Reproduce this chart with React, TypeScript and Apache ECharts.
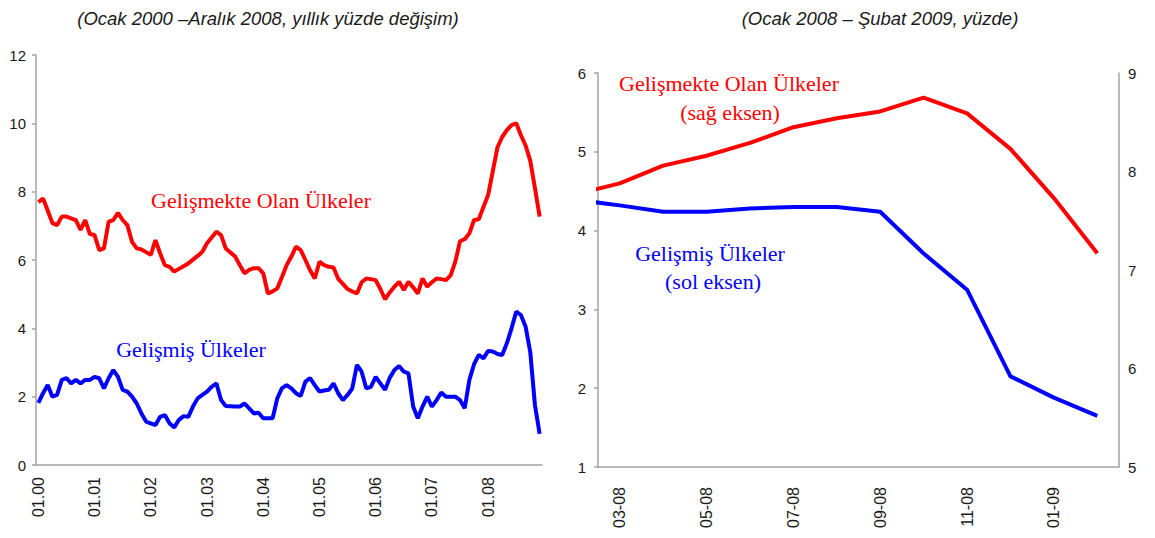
import React, { useEffect, useRef } from "react";
import * as echarts from "echarts";

// ---------- DATA ----------
const leftYears = ["00", "01", "02", "03", "04", "05", "06", "07", "08"];
const monthNumbers = ["01", "02", "03", "04", "05", "06", "07", "08", "09", "10", "11", "12"];
const leftCategories = leftYears.flatMap((y) => monthNumbers.map((m) => `${m}.${y}`));

// Gelişmekte Olan Ülkeler, Ocak 2000 – Aralık 2008 (yıllık % değişim)
const leftDeveloping = [
  7.69, 7.80, 7.45, 7.08, 7.02, 7.27, 7.27, 7.22, 7.17, 6.88, 7.17, 6.76,
  6.73, 6.29, 6.34, 7.12, 7.17, 7.38, 7.17, 7.02, 6.53, 6.34, 6.31, 6.23,
  6.15, 6.58, 6.19, 5.85, 5.80, 5.66, 5.74, 5.82, 5.90, 6.01, 6.12, 6.24,
  6.49, 6.66, 6.83, 6.73, 6.34, 6.22, 6.10, 5.85, 5.61, 5.71, 5.76, 5.76,
  5.61, 5.02, 5.08, 5.17, 5.50, 5.85, 6.10, 6.39, 6.29, 6.00, 5.70, 5.46,
  5.95, 5.85, 5.80, 5.78, 5.45, 5.30, 5.15, 5.08, 5.02, 5.35, 5.46, 5.44,
  5.41, 5.15, 4.85, 5.05, 5.22, 5.36, 5.12, 5.36, 5.20, 5.02, 5.46, 5.22,
  5.35, 5.46, 5.44, 5.41, 5.55, 5.95, 6.55, 6.61, 6.78, 7.17, 7.19, 7.55,
  7.90, 8.60, 9.30, 9.60, 9.80, 9.95, 10.0, 9.65, 9.35, 8.90, 8.10, 7.27,
];

// Gelişmiş Ülkeler, Ocak 2000 – Aralık 2008 (yıllık % değişim)
const leftDeveloped = [
  1.82, 2.10, 2.34, 2.00, 2.05, 2.49, 2.54, 2.39, 2.49, 2.39, 2.49, 2.49,
  2.58, 2.54, 2.24, 2.54, 2.78, 2.58, 2.20, 2.15, 2.00, 1.80, 1.51, 1.27,
  1.22, 1.17, 1.41, 1.46, 1.22, 1.10, 1.32, 1.43, 1.41, 1.71, 1.95, 2.05,
  2.15, 2.29, 2.39, 1.90, 1.73, 1.72, 1.71, 1.71, 1.80, 1.66, 1.51, 1.53,
  1.37, 1.37, 1.37, 1.95, 2.25, 2.34, 2.24, 2.10, 2.02, 2.44, 2.54, 2.34,
  2.15, 2.18, 2.20, 2.39, 2.10, 1.90, 2.05, 2.24, 2.93, 2.73, 2.24, 2.29,
  2.58, 2.39, 2.20, 2.55, 2.78, 2.90, 2.73, 2.68, 1.71, 1.37, 1.71, 2.00,
  1.71, 1.90, 2.12, 2.00, 2.00, 2.00, 1.90, 1.66, 2.49, 2.95, 3.22, 3.12,
  3.34, 3.32, 3.25, 3.22, 3.56, 4.00, 4.49, 4.39, 4.05, 3.30, 1.75, 0.91,
];

// Right panel: months (first one lies just outside the plotted range)
const rightMonths = [
  "02-08", "03-08", "04-08", "05-08", "06-08", "07-08", "08-08",
  "09-08", "10-08", "11-08", "12-08", "01-09", "02-09",
];
// Gelişmekte Olan Ülkeler (sağ eksen)
const rightDeveloping = [7.77, 7.88, 8.06, 8.16, 8.29, 8.45, 8.54, 8.61, 8.75, 8.59, 8.23, 7.73, 7.17];
// Gelişmiş Ülkeler (sol eksen)
const rightDeveloped = [4.39, 4.32, 4.24, 4.24, 4.28, 4.30, 4.30, 4.24, 3.71, 3.25, 2.15, 1.88, 1.65];

const leftTitle = "(Ocak 2000 –Aralık 2008, yıllık yüzde değişim)";
const rightTitle = "(Ocak 2008 – Şubat 2009, yüzde)";

// ---------- STYLE ----------
const RED = "#ff0000";
const BLUE = "#0000ff";
const GREY = "#a3a3a3";
const SANS = '"Liberation Sans", Arial, sans-serif';
const SERIF = '"Liberation Serif", "Times New Roman", serif';
const yLabel = { color: "#1a1a1a", fontFamily: SANS, fontSize: 15 };
const xLabel = { color: "#1a1a1a", fontFamily: SANS, fontSize: 16 };

export default function App() {
  const ref = useRef<HTMLDivElement>(null);

  useEffect(() => {
    document.body.style.margin = "0";
    if (!ref.current) return;
    const chart = echarts.init(ref.current, undefined, { renderer: "svg" });

    const serifText = (text: string, x: number, y: number, color: string) => ({
      type: "text",
      x,
      y,
      z: 10,
      style: {
        text,
        fill: color,
        font: `22px ${SERIF}`,
        align: "center",
        verticalAlign: "middle",
      },
    });

    const titleText = (text: string, x: number) => ({
      type: "text",
      x,
      y: 18,
      style: {
        text,
        fill: "#1a1a1a",
        font: `italic 18.5px ${SANS}`,
        align: "center",
        verticalAlign: "middle",
      },
    });

    chart.setOption({
      animation: false,
      backgroundColor: "#ffffff",
      grid: [
        { left: 36, top: 55, width: 506, height: 410 },
        { left: 598, top: 73, width: 521, height: 394 },
      ],
      xAxis: [
        {
          type: "category",
          gridIndex: 0,
          data: leftCategories,
          boundaryGap: true,
          axisLine: { onZero: false, lineStyle: { color: GREY, width: 1.5 } },
          axisTick: { interval: 11, length: 5, lineStyle: { color: GREY, width: 1.5 } },
          axisLabel: { ...xLabel, interval: 11, rotate: 90, margin: 12 },
          splitLine: { show: false },
        },
        {
          type: "category",
          gridIndex: 1,
          data: rightMonths.slice(1),
          boundaryGap: true,
          axisLine: { onZero: false, lineStyle: { color: GREY, width: 1.5 } },
          axisTick: { interval: 1, length: 5, lineStyle: { color: GREY, width: 1.5 } },
          axisLabel: { ...xLabel, interval: 1, rotate: 90, margin: 20 },
          splitLine: { show: false },
        },
        {
          type: "value",
          gridIndex: 1,
          min: -0.5,
          max: 11.5,
          show: false,
          axisLine: { onZero: false },
        },
      ],
      yAxis: [
        {
          type: "value",
          gridIndex: 0,
          min: 0,
          max: 12,
          interval: 2,
          axisLine: { show: true, onZero: false, lineStyle: { color: GREY, width: 1.5 } },
          axisTick: { show: true, length: 4, lineStyle: { color: GREY, width: 1.5 } },
          axisLabel: { ...yLabel, margin: 10 },
          splitLine: { show: false },
        },
        {
          type: "value",
          gridIndex: 1,
          position: "left",
          min: 1,
          max: 6,
          interval: 1,
          axisLine: { show: true, onZero: false, lineStyle: { color: GREY, width: 1.5 } },
          axisTick: { show: true, length: 4, lineStyle: { color: GREY, width: 1.5 } },
          axisLabel: { ...yLabel, margin: 12 },
          splitLine: { show: false },
        },
        {
          type: "value",
          gridIndex: 1,
          position: "right",
          min: 5,
          max: 9,
          interval: 1,
          axisLine: { show: true, onZero: false, lineStyle: { color: GREY, width: 1.5 } },
          axisTick: { show: false },
          axisLabel: { ...yLabel, margin: 9 },
          splitLine: { show: false },
        },
      ],
      series: [
        {
          name: "Gelişmekte Olan Ülkeler",
          type: "line",
          xAxisIndex: 0,
          yAxisIndex: 0,
          data: leftDeveloping,
          symbol: "none",
          lineStyle: { color: RED, width: 4 },
        },
        {
          name: "Gelişmiş Ülkeler",
          type: "line",
          xAxisIndex: 0,
          yAxisIndex: 0,
          data: leftDeveloped,
          symbol: "none",
          lineStyle: { color: BLUE, width: 4 },
        },
        {
          name: "Gelişmekte Olan Ülkeler (sağ eksen)",
          type: "line",
          xAxisIndex: 2,
          yAxisIndex: 2,
          data: rightDeveloping.map((v, i) => [i - 1, v]),
          symbol: "none",
          clip: true,
          lineStyle: { color: RED, width: 4 },
        },
        {
          name: "Gelişmiş Ülkeler (sol eksen)",
          type: "line",
          xAxisIndex: 2,
          yAxisIndex: 1,
          data: rightDeveloped.map((v, i) => [i - 1, v]),
          symbol: "none",
          clip: true,
          lineStyle: { color: BLUE, width: 4 },
        },
      ],
      graphic: [
        titleText(leftTitle, 268),
        titleText(rightTitle, 880),
        serifText("Gelişmekte Olan Ülkeler", 261, 200, RED),
        serifText("Gelişmiş Ülkeler", 191, 349, BLUE),
        serifText("Gelişmekte Olan Ülkeler", 729, 83, RED),
        serifText("(sağ eksen)", 730, 112, RED),
        serifText("Gelişmiş Ülkeler", 710, 253, BLUE),
        serifText("(sol eksen)", 713, 281, BLUE),
      ],
    });

    return () => chart.dispose();
  }, []);

  return <div ref={ref} style={{ width: 1155, height: 538 }} />;
}
